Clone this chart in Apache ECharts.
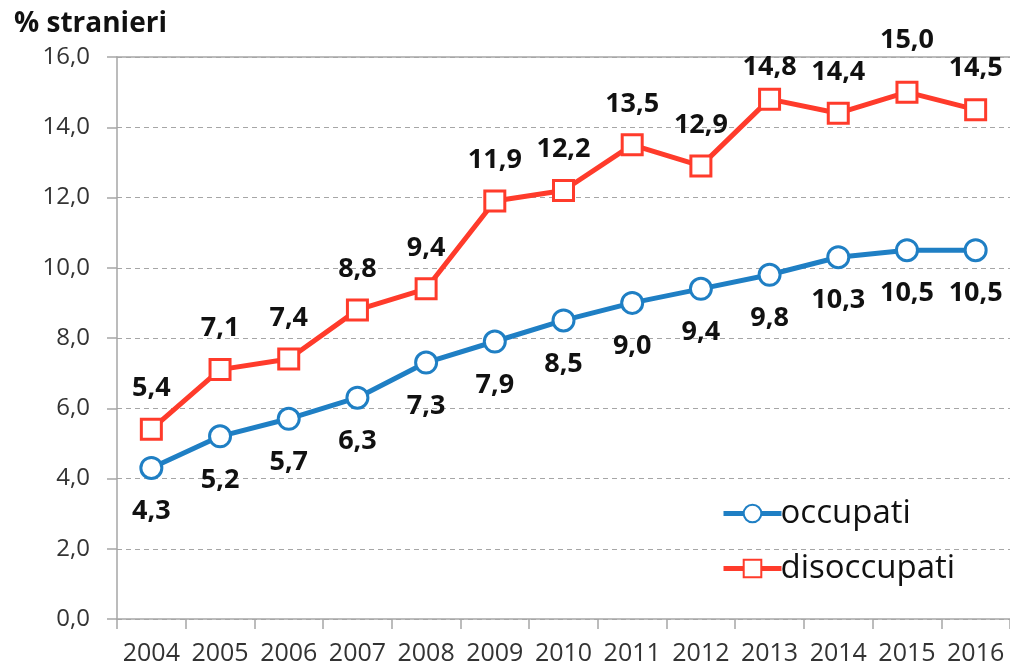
<!DOCTYPE html>
<html><head><meta charset="utf-8">
<script src="https://cdn.jsdelivr.net/npm/echarts@6/dist/echarts.min.js"></script>
<style>html,body{margin:0;padding:0;background:#fff}#c{width:1010px;height:668px}</style>
</head><body><div id="c"></div>
<script>
const years = ['2004','2005','2006','2007','2008','2009','2010','2011','2012','2013','2014','2015','2016'];
const occupati = [4.3, 5.2, 5.7, 6.3, 7.3, 7.9, 8.5, 9.0, 9.4, 9.8, 10.3, 10.5, 10.5];
const disoccupati = [5.4, 7.1, 7.4, 8.8, 9.4, 11.9, 12.2, 13.5, 12.9, 14.8, 14.4, 15.0, 14.5];
const yTitle = '% stranieri';

const fmt = v => v.toFixed(1).replace('.', ',');
const FONT = '"Open Sans", Lato, sans-serif';
// a few unemployed-series labels sit at a different height in the original
const labelDistance = {2013: 7, 2015: 27};
const disData = disoccupati.map((v, i) => labelDistance[years[i]] !== undefined ? {value: v, label: {distance: labelDistance[years[i]]}} : v);

const chart = echarts.init(document.getElementById('c'), null, {renderer: 'canvas'});
chart.setOption({
  animation: false,
  textStyle: {fontFamily: FONT},
  title: {text: yTitle, left: 9, top: 5, textStyle: {fontFamily: FONT, fontSize: 28, fontWeight: 'bold', color: '#111'}},
  grid: {left: 117, right: 0, top: 57, bottom: 49},
  legend: {
    orient: 'vertical', left: 716, top: 492, itemGap: 22, itemWidth: 58, itemHeight: 22,
    textStyle: {fontFamily: FONT, fontSize: 33, color: '#111', padding: [0, 0, 0, -6]},
    lineStyle: {width: 5},
    data: ['occupati', 'disoccupati']
  },
  xAxis: [{
    type: 'category', data: years, boundaryGap: true,
    axisLine: {lineStyle: {color: '#a6a6a6', width: 1.5}},
    axisTick: {show: true, interval: 0, length: 10, alignWithLabel: false, lineStyle: {color: '#a6a6a6', width: 1.5}},
    axisLabel: {interval: 0, hideOverlap: false, fontFamily: FONT, fontSize: 25, color: '#333', margin: 22}
  }, {
    type: 'category', data: years, position: 'top',
    axisLine: {show: true, lineStyle: {color: '#a6a6a6', width: 1.5}},
    axisTick: {show: false}, axisLabel: {show: false}
  }],
  yAxis: {
    type: 'value', min: 0, max: 16, interval: 2,
    axisLine: {show: true, lineStyle: {color: '#a6a6a6', width: 1.5}},
    axisTick: {show: true, length: 10, lineStyle: {color: '#a6a6a6', width: 1.5}},
    axisLabel: {fontFamily: FONT, fontSize: 24, color: '#333', margin: 27, formatter: v => fmt(v)},
    splitLine: {show: true, lineStyle: {color: '#a6a6a6', type: [5, 4], width: 1}}
  },
  series: [{
    name: 'occupati', type: 'line', data: occupati,
    symbol: 'circle', symbolSize: 21,
    lineStyle: {color: '#1f7fc4', width: 5},
    itemStyle: {color: '#fff', borderColor: '#1f7fc4', borderWidth: 3},
    label: {show: true, position: 'bottom', distance: 18, formatter: p => fmt(p.value),
      fontFamily: FONT, fontSize: 27, fontWeight: 'bold', color: '#111'},
    z: 3
  }, {
    name: 'disoccupati', type: 'line', data: disData,
    symbol: 'rect', symbolSize: 20,
    lineStyle: {color: '#ff3b2b', width: 5},
    itemStyle: {color: '#fff', borderColor: '#ff3b2b', borderWidth: 3},
    label: {show: true, position: 'top', distance: 16, formatter: p => fmt(p.value),
      fontFamily: FONT, fontSize: 27, fontWeight: 'bold', color: '#111'},
    z: 3
  }]
});
</script></body></html>
